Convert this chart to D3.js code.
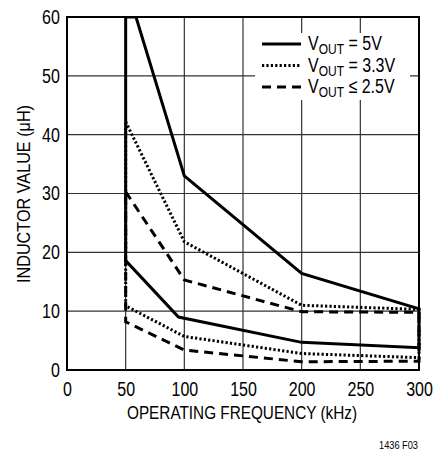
<!DOCTYPE html>
<html>
<head>
<meta charset="utf-8">
<script src="https://cdn.jsdelivr.net/npm/d3@7"></script>
<style>
  body { margin: 0; background: #fff; }
  svg text { font-family: "Liberation Sans", Arial, sans-serif; fill: #000; }
</style>
</head>
<body>
<div class="chart"></div>
<script>
// frequency (kHz) / inductance (uH)
const xTicks = [0, 50, 100, 150, 200, 250, 300];
const yTicks = [0, 10, 20, 30, 40, 50, 60];

// each curve runs as a closed band: upper edge left to right, lower edge back
const v5Freq = [50, 58.8, 100, 200, 300, 300, 200, 95, 50, 50];
const v5Ind = [60, 60, 33, 16.4, 10.4, 3.8, 4.7, 9.0, 18.6, 60];

const v33Freq = [50, 100, 200, 300, 300, 200, 100, 50, 50];
const v33Ind = [42.2, 21.8, 11.0, 10.3, 2.1, 2.8, 5.7, 10.9, 42.2];

const v25Freq = [50, 100, 200, 300, 300, 200, 100, 50, 50];
const v25Ind = [30.3, 15.3, 9.9, 9.8, 1.5, 1.4, 3.4, 8.2, 30.3];

const legendLabels = [["V", "OUT", " = 5V"], ["V", "OUT", " = 3.3V"], ["V", "OUT", " \u2264 2.5V"]];

const narrow = 0.8; // the original uses a condensed face

const margin = { top: 17, right: 15, bottom: 81, left: 67 };
const W = 434, H = 451;
const width = W - margin.left - margin.right;
const height = H - margin.top - margin.bottom;

const svg = d3.select(".chart").append("svg").attr("width", W).attr("height", H);
const g = svg.append("g").attr("transform", `translate(${margin.left},${margin.top})`);

const x = d3.scaleLinear().domain([0, 300]).range([0, width]);
const y = d3.scaleLinear().domain([0, 60]).range([height, 0]);

// grid
g.append("g").selectAll("line").data(xTicks.slice(1, -1)).join("line")
  .attr("x1", d => x(d)).attr("x2", d => x(d)).attr("y1", 0).attr("y2", height)
  .attr("stroke", "#333").attr("stroke-width", 1.2);
g.append("g").selectAll("line").data(yTicks.slice(1, -1)).join("line")
  .attr("x1", 0).attr("x2", width).attr("y1", d => y(d)).attr("y2", d => y(d))
  .attr("stroke", "#333").attr("stroke-width", 1.2);

// tick labels via d3 axes, domain/ticks hidden
const xAxis = g.append("g").attr("transform", `translate(0,${height})`)
  .call(d3.axisBottom(x).tickValues(xTicks).tickSize(0).tickPadding(12));
const yAxis = g.append("g")
  .call(d3.axisLeft(y).tickValues(yTicks).tickSize(0).tickPadding(9));
[xAxis, yAxis].forEach(a => {
  a.select(".domain").remove();
  a.selectAll("text").attr("font-size", 20).attr("font-family", null)
    .attr("transform", `scale(${narrow},1)`);
});

// legend box
const lg = g.append("g").attr("transform", "translate(188,16)");
lg.append("rect").attr("width", 155).attr("height", 67).attr("fill", "#fff");

const dashes = [null, "2.2,2.2", "9,6"];
const series = [[v5Freq, v5Ind], [v33Freq, v33Ind], [v25Freq, v25Ind]];
const line = d3.line().x(d => x(d[0])).y(d => y(d[1]));

g.append("clipPath").attr("id", "clip").append("rect")
  .attr("x", -2).attr("y", 0).attr("width", width + 4).attr("height", height);

g.append("g").attr("clip-path", "url(#clip)").selectAll("path").data(series).join("path")
  .attr("d", s => line(s[0].map((f, i) => [f, s[1][i]])))
  .attr("fill", "none").attr("stroke", "#000").attr("stroke-width", 3)
  .attr("stroke-dasharray", (s, i) => dashes[i]);

// frame
g.append("rect").attr("width", width).attr("height", height)
  .attr("fill", "none").attr("stroke", "#000").attr("stroke-width", 2);

const rows = lg.selectAll(".row").data(legendLabels).join("g").attr("class", "row")
  .attr("transform", (d, i) => `translate(0,${11 + i * 21.5})`);
rows.append("line").attr("x1", 7).attr("x2", 46).attr("y1", 0).attr("y2", 0)
  .attr("stroke", "#000").attr("stroke-width", 3)
  .attr("stroke-dasharray", (d, i) => dashes[i]);
const lt = rows.append("text").attr("x", 53 / narrow).attr("y", 6).attr("font-size", 20)
  .attr("transform", `scale(${narrow},1)`);
lt.append("tspan").text(d => d[0]);
lt.append("tspan").attr("font-size", 15).attr("dy", 4).text(d => d[1]);
lt.append("tspan").attr("dy", -4).text(d => d[2]);

// titles
svg.append("text").attr("x", 242).attr("y", 419)
  .attr("text-anchor", "middle").attr("font-size", 18)
  .attr("textLength", 230).attr("lengthAdjust", "spacingAndGlyphs")
  .text("OPERATING FREQUENCY (kHz)");
svg.append("text").attr("transform", "translate(30,194) rotate(-90)")
  .attr("text-anchor", "middle").attr("font-size", 18)
  .attr("textLength", 178).attr("lengthAdjust", "spacingAndGlyphs")
  .text("INDUCTOR VALUE (\u03BCH)");
svg.append("text").attr("x", 418).attr("y", 449).attr("text-anchor", "end")
  .attr("font-size", 11).attr("textLength", 39).attr("lengthAdjust", "spacingAndGlyphs")
  .text("1436 F03");
</script>
</body>
</html>
